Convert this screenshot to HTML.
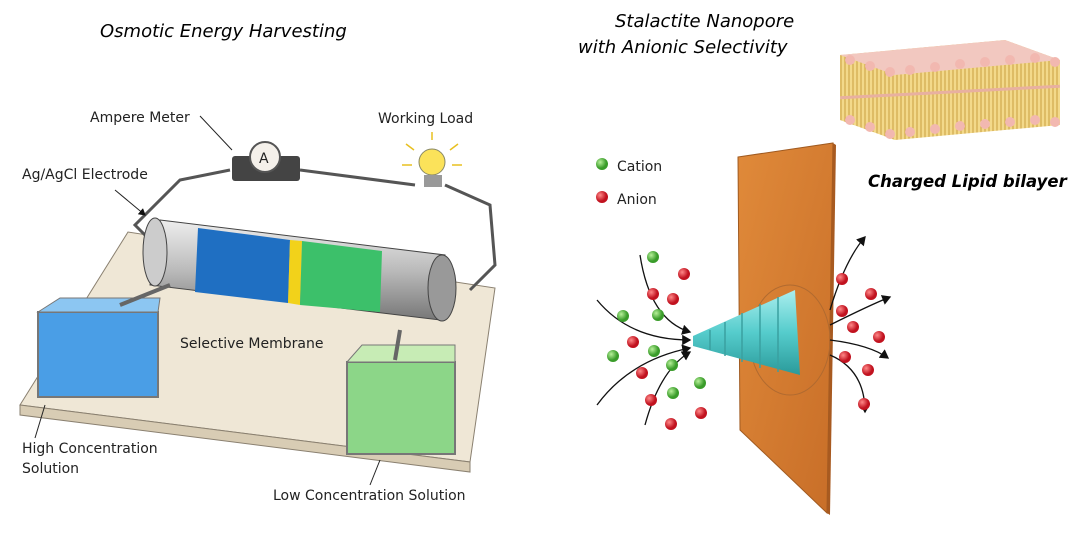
<!DOCTYPE html>
<html><head><meta charset="utf-8"><style>
body{margin:0;background:#fff;}
svg{display:block;}
.t{font-family:"DejaVu Sans","Liberation Sans",sans-serif;font-style:italic;}
.l{font-family:"DejaVu Sans","Liberation Sans",sans-serif;font-size:14px;fill:#222;}
</style></head><body>
<svg width="1080" height="535" viewBox="0 0 1080 535" xmlns="http://www.w3.org/2000/svg">
<defs>
<marker id="ar" markerWidth="8" markerHeight="8" refX="6" refY="4" orient="auto"><path d="M0,0 L7,4 L0,8 Z" fill="#111"/></marker>
<radialGradient id="rd" cx="35%" cy="35%"><stop offset="0" stop-color="#f88"/><stop offset="1" stop-color="#c1121f"/></radialGradient>
<radialGradient id="gr" cx="35%" cy="35%"><stop offset="0" stop-color="#b7f09a"/><stop offset="1" stop-color="#3a9c2a"/></radialGradient>
<linearGradient id="cyl" x1="0" y1="0" x2="0" y2="1"><stop offset="0" stop-color="#eee"/><stop offset=".5" stop-color="#bbb"/><stop offset="1" stop-color="#777"/></linearGradient>
<linearGradient id="cone" x1="0" y1="0" x2="0" y2="1"><stop offset="0" stop-color="#aee"/><stop offset=".5" stop-color="#5cc"/><stop offset="1" stop-color="#2a9a9a"/></linearGradient>
<linearGradient id="plate" x1="0" y1="0" x2="1" y2="1"><stop offset="0" stop-color="#e08a3a"/><stop offset="1" stop-color="#c86e28"/></linearGradient>
<pattern id="tails" width="4" height="10" patternUnits="userSpaceOnUse"><rect width="4" height="10" fill="#f3d98a"/><line x1="1" y1="0" x2="1" y2="10" stroke="#c9a040" stroke-width="1"/></pattern>
</defs>
<text x="100" y="37" class="t" font-size="18">Osmotic Energy Harvesting</text>
<text x="615" y="27" class="t" font-size="18">Stalactite Nanopore</text>
<text x="578" y="53" class="t" font-size="18">with Anionic Selectivity</text>
<text x="868" y="187" class="t" font-size="16.5" font-weight="bold">Charged Lipid bilayer</text>

<!-- lipid bilayer -->
<polygon points="840,55 1005,40 1060,60 1060,125 895,140 840,120" fill="url(#tails)"/>
<polygon points="840,55 1005,40 1060,60 895,75" fill="#f2c8c0"/>
<g fill="#f2b8b0">
<circle cx="850" cy="60" r="5"/><circle cx="870" cy="66" r="5"/><circle cx="890" cy="72" r="5"/><circle cx="910" cy="70" r="5"/><circle cx="935" cy="67" r="5"/><circle cx="960" cy="64" r="5"/><circle cx="985" cy="62" r="5"/><circle cx="1010" cy="60" r="5"/><circle cx="1035" cy="58" r="5"/><circle cx="1055" cy="62" r="5"/>
<circle cx="850" cy="120" r="5"/><circle cx="870" cy="127" r="5"/><circle cx="890" cy="134" r="5"/><circle cx="910" cy="132" r="5"/><circle cx="935" cy="129" r="5"/><circle cx="960" cy="126" r="5"/><circle cx="985" cy="124" r="5"/><circle cx="1010" cy="122" r="5"/><circle cx="1035" cy="120" r="5"/><circle cx="1055" cy="122" r="5"/>
</g>
<line x1="840" y1="92" x2="1060" y2="92" stroke="#e8b0a0" stroke-width="3" transform="rotate(-3 950 92)"/>

<!-- board -->
<polygon points="20,405 128,232 495,288 470,462" fill="#efe7d6" stroke="#8a8070"/>
<polygon points="20,405 470,462 470,472 20,415" fill="#d8ccb4" stroke="#8a8070"/>
<!-- wires -->
<path d="M150,240 L135,225 L180,180 L230,170 M300,170 L415,185 M445,185 L490,205 L495,265 L470,290" fill="none" stroke="#555" stroke-width="3"/>
<!-- cylinder -->
<polygon points="160,220 445,255 440,320 150,285" fill="url(#cyl)" stroke="#444"/>
<ellipse cx="155" cy="252" rx="12" ry="34" fill="#ccc" stroke="#444"/>
<ellipse cx="442" cy="288" rx="14" ry="33" fill="#999" stroke="#444"/>
<polygon points="198,228 290,240 288,303 195,292" fill="#1f6fc2"/>
<polygon points="290,240 302,241 300,305 288,303" fill="#f2d21a"/>
<polygon points="302,241 382,251 380,312 300,305" fill="#3cc06a"/>
<!-- tanks -->
<rect x="38" y="312" width="120" height="85" fill="#4a9ee6" stroke="#777" stroke-width="2"/>
<polygon points="38,312 60,298 160,298 158,312" fill="#8cc6f2" stroke="#777"/>
<rect x="347" y="362" width="108" height="92" fill="#8cd688" stroke="#777" stroke-width="2"/>
<polygon points="347,362 362,345 455,345 455,362" fill="#c7ecb5" stroke="#777"/>
<path d="M120,305 L170,285 M400,330 L395,360" stroke="#666" stroke-width="4"/>
<!-- meter -->
<rect x="232" y="156" width="68" height="25" rx="3" fill="#444"/>
<circle cx="265" cy="157" r="15" fill="#f4f0ea" stroke="#555" stroke-width="2"/>
<text x="259" y="163" class="l" font-size="15">A</text>
<!-- bulb -->
<circle cx="432" cy="162" r="13" fill="#fbe25a" stroke="#886"/>
<rect x="424" y="175" width="18" height="12" fill="#999"/>
<g stroke="#e8c020" stroke-width="1.5"><line x1="432" y1="140" x2="432" y2="132"/><line x1="450" y1="150" x2="458" y2="144"/><line x1="414" y1="150" x2="406" y2="144"/><line x1="452" y1="165" x2="462" y2="165"/><line x1="412" y1="165" x2="402" y2="165"/></g>

<text x="90" y="122" class="l">Ampere Meter</text>
<line x1="200" y1="116" x2="232" y2="150" stroke="#222"/>
<text x="378" y="123" class="l">Working Load</text>
<text x="22" y="179" class="l">Ag/AgCl Electrode</text>
<line x1="115" y1="190" x2="145" y2="215" stroke="#222" marker-end="url(#ar)"/>
<text x="180" y="348" class="l">Selective Membrane</text>
<text x="22" y="453" class="l">High Concentration</text>
<text x="22" y="473" class="l">Solution</text>
<line x1="35" y1="438" x2="45" y2="405" stroke="#222"/>
<text x="273" y="500" class="l">Low Concentration Solution</text>
<line x1="370" y1="485" x2="380" y2="460" stroke="#222"/>

<!-- right panel -->
<circle cx="602" cy="164" r="6" fill="url(#gr)"/><text x="617" y="171" class="l" font-size="19">Cation</text>
<circle cx="602" cy="197" r="6" fill="url(#rd)"/><text x="617" y="204" class="l" font-size="19">Anion</text>

<polygon points="738,157 833,143 827,513 740,430" fill="url(#plate)" stroke="#a05a20"/>
<polygon points="833,143 836,145 830,515 827,513" fill="#a85a20"/>
<ellipse cx="790" cy="340" rx="40" ry="55" fill="none" stroke="#b06a30"/>
<polygon points="693,336 795,290 800,375 693,346" fill="url(#cone)"/>
<g fill="none" stroke="#3aa0a0" stroke-width="1.5"><line x1="710" y1="330" x2="710" y2="350"/><line x1="725" y1="322" x2="725" y2="356"/><line x1="742" y1="313" x2="742" y2="362"/><line x1="760" y1="304" x2="760" y2="368"/><line x1="778" y1="297" x2="778" y2="372"/></g>

<g fill="none" stroke="#111" stroke-width="1.3" marker-end="url(#ar)">
<path d="M640,255 Q650,320 690,332"/>
<path d="M597,300 Q630,340 690,340"/>
<path d="M597,405 Q630,360 690,348"/>
<path d="M645,425 Q660,370 690,352"/>
<path d="M830,310 Q845,260 865,237"/>
<path d="M830,325 Q870,305 890,297"/>
<path d="M830,340 Q870,345 888,358"/>
<path d="M830,355 Q865,370 865,412"/>
</g>
<g>
<circle cx="653" cy="257" r="6" fill="url(#gr)"/><circle cx="684" cy="274" r="6" fill="url(#rd)"/>
<circle cx="653" cy="294" r="6" fill="url(#rd)"/><circle cx="673" cy="299" r="6" fill="url(#rd)"/>
<circle cx="623" cy="316" r="6" fill="url(#gr)"/><circle cx="658" cy="315" r="6" fill="url(#gr)"/>
<circle cx="633" cy="342" r="6" fill="url(#rd)"/><circle cx="654" cy="351" r="6" fill="url(#gr)"/>
<circle cx="613" cy="356" r="6" fill="url(#gr)"/><circle cx="672" cy="365" r="6" fill="url(#gr)"/>
<circle cx="642" cy="373" r="6" fill="url(#rd)"/><circle cx="700" cy="383" r="6" fill="url(#gr)"/>
<circle cx="673" cy="393" r="6" fill="url(#gr)"/><circle cx="651" cy="400" r="6" fill="url(#rd)"/>
<circle cx="701" cy="413" r="6" fill="url(#rd)"/><circle cx="671" cy="424" r="6" fill="url(#rd)"/>
<circle cx="842" cy="279" r="6" fill="url(#rd)"/><circle cx="871" cy="294" r="6" fill="url(#rd)"/>
<circle cx="842" cy="311" r="6" fill="url(#rd)"/><circle cx="853" cy="327" r="6" fill="url(#rd)"/>
<circle cx="879" cy="337" r="6" fill="url(#rd)"/><circle cx="845" cy="357" r="6" fill="url(#rd)"/>
<circle cx="868" cy="370" r="6" fill="url(#rd)"/><circle cx="864" cy="404" r="6" fill="url(#rd)"/>
</g>
</svg>
</body></html>
